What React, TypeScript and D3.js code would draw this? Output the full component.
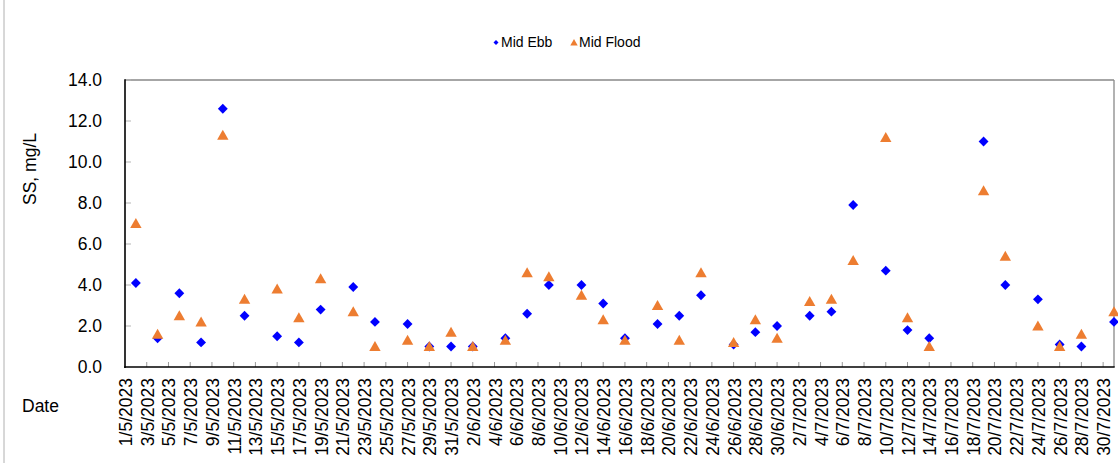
import React from "react";
import * as d3 from "d3";

const dates: string[] = [
  "2023-05-02", "2023-05-04", "2023-05-06", "2023-05-08", "2023-05-10", "2023-05-12",
  "2023-05-15", "2023-05-17", "2023-05-19", "2023-05-22", "2023-05-24", "2023-05-27",
  "2023-05-29", "2023-05-31", "2023-06-02", "2023-06-05", "2023-06-07", "2023-06-09",
  "2023-06-12", "2023-06-14", "2023-06-16", "2023-06-19", "2023-06-21", "2023-06-23",
  "2023-06-26", "2023-06-28", "2023-06-30", "2023-07-03", "2023-07-05", "2023-07-07",
  "2023-07-10", "2023-07-12", "2023-07-14", "2023-07-19", "2023-07-21", "2023-07-24",
  "2023-07-26", "2023-07-28", "2023-07-31",
];

const midEbb: number[] = [
  4.1, 1.4, 3.6, 1.2, 12.6, 2.5, 1.5, 1.2, 2.8, 3.9, 2.2, 2.1, 1.0,
  1.0, 1.0, 1.4, 2.6, 4.0, 4.0, 3.1, 1.4, 2.1, 2.5, 3.5, 1.1, 1.7, 2.0,
  2.5, 2.7, 7.9, 4.7, 1.8, 1.4, 11.0, 4.0, 3.3, 1.1, 1.0, 2.2,
];

const midFlood: number[] = [
  7.0, 1.6, 2.5, 2.2, 11.3, 3.3, 3.8, 2.4, 4.3, 2.7, 1.0, 1.3, 1.0,
  1.7, 1.0, 1.3, 4.6, 4.4, 3.5, 2.3, 1.3, 3.0, 1.3, 4.6, 1.2, 2.3, 1.4,
  3.2, 3.3, 5.2, 11.2, 2.4, 1.0, 8.6, 5.4, 2.0, 1.0, 1.6, 2.7,
];

const yTicks: number[] = [0, 2, 4, 6, 8, 10, 12, 14];
const axisStart = "2023-05-01";
const axisEnd = "2023-07-31";
const seriesNames: string[] = ["Mid Ebb", "Mid Flood"];
const yTitle = "SS, mg/L";
const xTitle = "Date";

const FONT = "'Liberation Sans', Arial, sans-serif";
const EBB = "#0000FF";
const FLOOD = "#ED7D31";

export default function App() {
  const W = 1118, H = 463;
  const left = 125, right = 1114, top = 80, bottom = 367;
  const parse = d3.utcParse("%Y-%m-%d");
  const x = d3.scaleUtc().domain([parse(axisStart)!, parse(axisEnd)!]).range([left, right]);
  const y = d3.scaleLinear().domain([0, 14]).range([bottom, top]);
  const xTicks = d3.utcDay.range(parse(axisStart)!, parse(axisEnd)!, 1).filter((_, i) => i % 2 === 0);
  const fmt = (d: Date) => `${d.getUTCDate()}/${d.getUTCMonth() + 1}/${d.getUTCFullYear()}`;

  const diamond = d3.symbol().type(d3.symbolDiamond2).size(62)();
  const legDiamond = d3.symbol().type(d3.symbolDiamond2).size(16)();
  const tri = (cx: number, cy: number, s = 1) =>
    `M${cx},${cy - 5.5 * s}L${cx + 5.7 * s},${cy + 4.5 * s}L${cx - 5.7 * s},${cy + 4.5 * s}Z`;

  return (
    <svg width={W} height={H} style={{ position: "absolute", left: 0, top: 0, background: "#fff" }}
      fontFamily={FONT}>
      <rect x={0} y={0} width={W} height={H} fill="#fff" />
      <line x1={4} x2={4} y1={0} y2={H} stroke="#b0b0b0" strokeWidth={1} />

      {/* legend */}
      <path d={legDiamond} fill={EBB} transform="translate(496,42.5)" />
      <text x={501} y={47} fontSize={14} fill="#000">{seriesNames[0]}</text>
      <path d={tri(574, 42.5, 0.65)} fill={FLOOD} />
      <text x={579} y={47} fontSize={14} fill="#000">{seriesNames[1]}</text>

      {/* frame */}
      <line x1={left} x2={right} y1={top} y2={top} stroke="#898989" strokeWidth={1.3} />
      <line x1={right} x2={right} y1={top} y2={bottom} stroke="#898989" strokeWidth={1.3} />

      {/* y ticks */}
      {yTicks.map((t) => (
        <g key={t}>
          {t > 0 && <line x1={left} x2={left + 6} y1={y(t)} y2={y(t)} stroke="#b5b5b5" strokeWidth={1} />}
          <text x={102} y={y(t) + 6} fontSize={17.5} textAnchor="end" fill="#000">{t.toFixed(1)}</text>
        </g>
      ))}

      {/* x ticks */}
      {xTicks.map((d, i) => (
        <g key={i}>
          {i > 0 && <line x1={x(d)} x2={x(d)} y1={bottom} y2={bottom - 5} stroke="#9a9a9a" strokeWidth={1} />}
          <text transform={`translate(${x(d) + 7},${378}) rotate(-90)`} fontSize={17.5} textAnchor="end" fill="#000">
            {fmt(d)}
          </text>
        </g>
      ))}

      {/* axes */}
      <line x1={left} x2={left} y1={top - 0.7} y2={bottom + 1} stroke="#000" strokeWidth={1.6} />
      <line x1={left - 0.8} x2={right + 0.7} y1={bottom} y2={bottom} stroke="#000" strokeWidth={1.6} />

      {/* titles */}
      <text transform={`translate(36,169) rotate(-90)`} fontSize={17.5} textAnchor="middle" fill="#000">{yTitle}</text>
      <text x={22} y={412} fontSize={17.5} fill="#000">{xTitle}</text>

      {/* series */}
      {dates.map((ds, i) => {
        const cx = x(parse(ds)!);
        return <path key={ds} d={diamond} fill={EBB} transform={`translate(${cx},${y(midEbb[i])})`} />;
      })}
      {dates.map((ds, i) => {
        const cx = x(parse(ds)!);
        return <path key={"f" + ds} d={tri(cx, y(midFlood[i]))} fill={FLOOD} />;
      })}
    </svg>
  );
}
